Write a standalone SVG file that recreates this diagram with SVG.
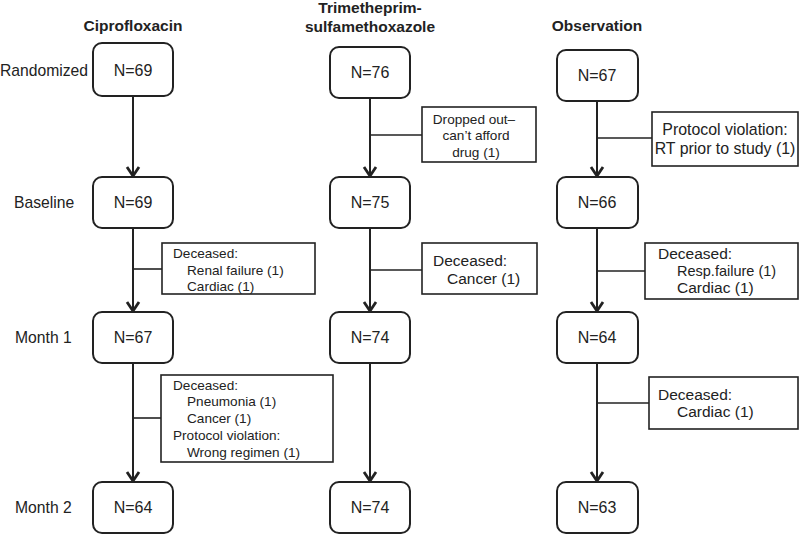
<svg xmlns="http://www.w3.org/2000/svg" width="800" height="535" viewBox="0 0 800 535">
<style>
.t{font-family:"Liberation Sans",Arial,Helvetica,sans-serif;fill:#222}
.h{font-size:15.5px;font-weight:bold;text-anchor:middle}
.n{font-size:16px;text-anchor:middle}
.r{font-size:15.7px}
.s{font-size:13.6px}
.m{font-size:15.5px}
.box{fill:#fff;stroke:#222;stroke-width:2}
.side{fill:#fff;stroke:#222;stroke-width:1.6}
.ln{stroke:#222;stroke-width:2;fill:none}
.br{stroke:#222;stroke-width:1.6;fill:none}
</style>
<defs>
<marker id="ah" viewBox="-12 -8 16 16" markerWidth="16" markerHeight="16" markerUnits="userSpaceOnUse" refX="0" refY="0" orient="auto">
<path d="M-10,-6 L-1,0 L-10,6" fill="none" stroke="#222" stroke-width="2.8"/>
</marker>
</defs>
<rect width="800" height="535" fill="#fff"/>
<g id="headers">
<text class="t h" x="133" y="31">Ciprofloxacin</text>
<text class="t h" x="370" y="13">Trimetheprim-</text>
<text class="t h" x="370" y="32">sulfamethoxazole</text>
<text class="t h" x="597" y="31">Observation</text>
</g>
<g id="rowlabels">
<text class="t r" x="0" y="76">Randomized</text>
<text class="t r" x="14" y="208">Baseline</text>
<text class="t r" x="15" y="343">Month 1</text>
<text class="t r" x="15" y="513">Month 2</text>
</g>
<g id="connectors">
<line class="ln" x1="133" y1="96" x2="133" y2="177" marker-end="url(#ah)"/>
<line class="ln" x1="133" y1="228" x2="133" y2="312" marker-end="url(#ah)"/>
<line class="ln" x1="133" y1="363" x2="133" y2="482" marker-end="url(#ah)"/>
<line class="ln" x1="370" y1="98" x2="370" y2="177" marker-end="url(#ah)"/>
<line class="ln" x1="370" y1="228" x2="370" y2="312" marker-end="url(#ah)"/>
<line class="ln" x1="370" y1="363" x2="370" y2="482" marker-end="url(#ah)"/>
<line class="ln" x1="597" y1="101" x2="597" y2="177" marker-end="url(#ah)"/>
<line class="ln" x1="597" y1="228" x2="597" y2="312" marker-end="url(#ah)"/>
<line class="ln" x1="597" y1="363" x2="597" y2="482" marker-end="url(#ah)"/>
<line class="br" x1="133" y1="269" x2="162" y2="269"/>
<line class="br" x1="133" y1="418" x2="161" y2="418"/>
<line class="br" x1="370" y1="135" x2="422" y2="135"/>
<line class="br" x1="370" y1="270" x2="422" y2="270"/>
<line class="br" x1="597" y1="138" x2="652" y2="138"/>
<line class="br" x1="597" y1="271" x2="645" y2="271"/>
<line class="br" x1="597" y1="403" x2="649" y2="403"/>
</g>
<g id="c1-rand"><rect class="box" x="93" y="43" width="80" height="53" rx="9"/><text class="t n" x="133" y="76">N=69</text></g>
<g id="c1-base"><rect class="box" x="93" y="177" width="80" height="51" rx="9"/><text class="t n" x="133" y="208">N=69</text></g>
<g id="c1-m1"><rect class="box" x="93" y="312" width="80" height="51" rx="9"/><text class="t n" x="133" y="343">N=67</text></g>
<g id="c1-m2"><rect class="box" x="93" y="482" width="80" height="51" rx="9"/><text class="t n" x="133" y="513">N=64</text></g>
<g id="c2-rand"><rect class="box" x="330" y="47" width="80" height="51" rx="9"/><text class="t n" x="370" y="78">N=76</text></g>
<g id="c2-base"><rect class="box" x="330" y="177" width="80" height="51" rx="9"/><text class="t n" x="370" y="208">N=75</text></g>
<g id="c2-m1"><rect class="box" x="330" y="312" width="80" height="51" rx="9"/><text class="t n" x="370" y="343">N=74</text></g>
<g id="c2-m2"><rect class="box" x="330" y="482" width="80" height="51" rx="9"/><text class="t n" x="370" y="513">N=74</text></g>
<g id="c3-rand"><rect class="box" x="557" y="50" width="81" height="51" rx="9"/><text class="t n" x="597" y="81">N=67</text></g>
<g id="c3-base"><rect class="box" x="557" y="177" width="81" height="51" rx="9"/><text class="t n" x="597" y="208">N=66</text></g>
<g id="c3-m1"><rect class="box" x="557" y="312" width="81" height="51" rx="9"/><text class="t n" x="597" y="343">N=64</text></g>
<g id="c3-m2"><rect class="box" x="557" y="482" width="81" height="51" rx="9"/><text class="t n" x="597" y="513">N=63</text></g>
<g id="c1-loss1"><rect class="side" x="162" y="243" width="153" height="51"/>
<text class="t s" x="173" y="258">Deceased:</text>
<text class="t s" x="187" y="275">Renal failure (1)</text>
<text class="t s" x="187" y="291">Cardiac (1)</text></g>
<g id="c1-loss2"><rect class="side" x="161" y="375" width="172" height="87"/>
<text class="t s" x="173" y="390">Deceased:</text>
<text class="t s" x="187" y="406">Pneumonia (1)</text>
<text class="t s" x="187" y="423">Cancer (1)</text>
<text class="t s" x="173" y="440">Protocol violation:</text>
<text class="t s" x="187" y="457">Wrong regimen (1)</text></g>
<g id="c2-loss1"><rect class="side" x="422" y="107" width="114" height="55"/>
<text class="t s" x="474" y="124" text-anchor="middle">Dropped out–</text>
<text class="t s" x="476" y="140" text-anchor="middle">can’t afford</text>
<text class="t s" x="476" y="157" text-anchor="middle">drug (1)</text></g>
<g id="c2-loss2"><rect class="side" x="422" y="243" width="115" height="51"/>
<text class="t m" x="433" y="266">Deceased:</text>
<text class="t m" x="447" y="284">Cancer (1)</text></g>
<g id="c3-loss1"><rect class="side" x="652" y="112" width="146" height="54"/>
<text class="t m" x="725" y="135" text-anchor="middle" style="font-size:15.9px">Protocol violation:</text>
<text class="t m" x="725" y="154" text-anchor="middle" style="font-size:15.9px">RT prior to study (1)</text></g>
<g id="c3-loss2"><rect class="side" x="645" y="243" width="153" height="56"/>
<text class="t m" x="658" y="259">Deceased:</text>
<text class="t m" x="677" y="276" style="font-size:14.5px">Resp.failure (1)</text>
<text class="t m" x="677" y="293">Cardiac (1)</text></g>
<g id="c3-loss3"><rect class="side" x="649" y="377" width="149" height="52"/>
<text class="t m" x="658" y="400">Deceased:</text>
<text class="t m" x="677" y="417">Cardiac (1)</text></g>
</svg>
